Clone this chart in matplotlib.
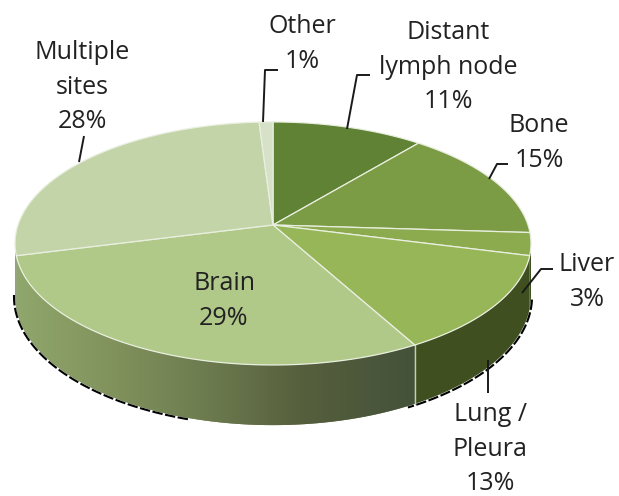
import numpy as np
import matplotlib
matplotlib.use('Agg')
import matplotlib.pyplot as plt
from matplotlib.colors import LinearSegmentedColormap
from matplotlib.patches import Polygon

plt.rcParams['font.family'] = ['Open Sans', 'DejaVu Sans']

# Clockwise from 12 o'clock
names = ['Distant\nlymph node', 'Bone', 'Liver', 'Lung /\nPleura', 'Brain', 'Multiple\nsites', 'Other']
values = [11, 15, 3, 13, 29, 28, 1]
top_colors = ['#5f8235', '#7b9b45', '#8cab4e', '#97b657', '#b0c888', '#c3d4a9', '#d6e1c8']
wall_colors = ['#3f4f20', '#3f4f20', '#3f4f20', '#3f4f20', '#6e7d50', '#8fa66c', '#8fa66c']

# centre of each label, in pixels
label_pos = [(448, 67), (539, 143), (587, 282), (490, 449), (224, 301), (82, 87), (302, 44)]
leaders = [
    [(347, 129), (357, 75), (370, 75)],
    [(489, 179), (497, 164), (508, 164)],
    [(522, 293), (541, 269), (553, 269)],
    [(488, 360), (488, 393)],
    None,
    [(79, 162), (84, 136)],
    [(263, 122), (265, 70), (278, 70)],
]

# pie projection
CX, CY = 273, 225
A, B, K = 118.7, 255, 0.152
DEPTH = 51


def project(theta, drop=0):
    u, v = np.sin(theta), np.cos(theta)
    w = 1 + K * v
    return CX + B * u / w, CY - A * v / w + drop / w


def arc(t0, t1, drop=0):
    t = np.linspace(t0, t1, max(int(abs(t1 - t0) * 80), 2))
    x, y = project(t, drop)
    return np.column_stack([x, y])


fig = plt.figure(figsize=(6.19, 4.96), dpi=100)
ax = fig.add_axes([0, 0, 1, 1])
ax.set_xlim(0, 619)
ax.set_ylim(496, 0)
ax.axis('off')

edges = np.radians(np.cumsum([0] + values) * 3.6)
SIDE0 = np.radians(98.7)
SIDE1 = np.radians(261.3)

brain_cmap = LinearSegmentedColormap.from_list('wall', [
    (0.0, '#8fa66c'), (0.2, '#84965f'), (0.46, '#6e7d50'),
    (0.72, '#565f3d'), (1.0, '#44523a')])

# side wall
for i in range(len(values)):
    t0 = max(edges[i], SIDE0)
    t1 = min(edges[i + 1], SIDE1)
    if t1 <= t0:
        continue
    pts = np.vstack([arc(t0, t1), arc(t0, t1, DEPTH)[::-1]])
    poly = Polygon(pts, closed=True, facecolor=wall_colors[i], edgecolor='none', zorder=2)
    ax.add_patch(poly)
    if names[i] == 'Brain':
        im = ax.imshow(np.linspace(0, 1, 256).reshape(1, -1), cmap=brain_cmap, aspect='auto',
                       extent=(17, 415, 440, 240), zorder=2.1)
        im.set_clip_path(poly)
ax.set_xlim(0, 619)
ax.set_ylim(496, 0)

# light seam between brain and lung walls
seam = arc(edges[4], edges[4], 0)[0], arc(edges[4], edges[4], DEPTH)[0]
ax.plot(*zip(*seam), color='#c5cdb8', lw=1, zorder=2.5)

# dark rough line along the lower rim
rim_left = arc(np.radians(262), np.radians(196), DEPTH + 1)
rim_right = arc(np.radians(100), np.radians(153), DEPTH + 1)
ax.plot(rim_left[:, 0] - 1, rim_left[:, 1], color='black', lw=1.5, ls=(0, (5, 1.2)), zorder=2.6)
ax.plot(rim_right[:, 0] + 1, rim_right[:, 1], color='black', lw=1.5, ls=(0, (5, 1.2)), zorder=2.6)

# top face
for i in range(len(values)):
    pts = np.vstack([[CX, CY], arc(edges[i], edges[i + 1])])
    ax.add_patch(Polygon(pts, closed=True, facecolor=top_colors[i], edgecolor='#e9efdf',
                         lw=0.9, joinstyle='round', zorder=3))

# leader lines and labels
for name, val, pos, line in zip(names, values, label_pos, leaders):
    if line is not None:
        ax.plot(*zip(*line), color='#1a1a1a', lw=1.4, zorder=4, solid_capstyle='butt')
    ax.text(pos[0], pos[1], f'{name}\n{val}%', ha='center', va='center', fontsize=18,
            linespacing=1.52, color='#222222', zorder=5)

plt.savefig('out.png', dpi=100)
